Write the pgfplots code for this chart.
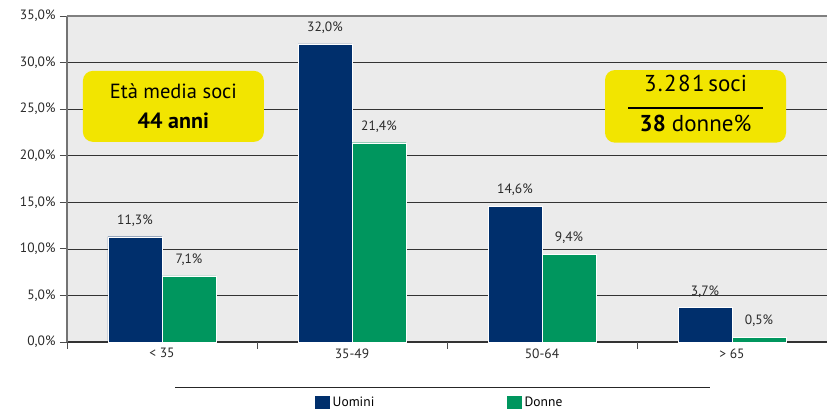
\documentclass[border=0pt]{standalone}
\usepackage{fontspec}
\setmainfont{PT Sans}
\usepackage{pgfplots}
\pgfplotsset{compat=1.18}
\definecolor{navy}{HTML}{002F6C}
\definecolor{grn}{HTML}{00965E}
\definecolor{ylw}{HTML}{F2E500}
\definecolor{bg}{HTML}{EBEBEB}
\definecolor{txt}{HTML}{2A2A2A}
\begin{document}
\begin{tikzpicture}
\begin{axis}[
  name=ax,
  scale only axis, width=760pt, height=326pt,
  xmin=-0.5, xmax=3.5, ymin=0, ymax=35,
  ybar=0pt, bar width=54pt,
  axis background/.style={fill=bg},
  axis x line*=bottom, axis y line*=left,
  axis line style={-},
  x axis line style={black!80, line width=1pt},
  y axis line style={black!55, line width=1.5pt},
  tick align=outside,
  major tick length=7pt,
  tick style={black!70, line width=0.8pt},
  xtick={-0.5,0.5,1.5,2.5,3.5}, xticklabels={},
  extra x ticks={0,1,2,3},
  extra x tick labels={{< 35},{35-49},{50-64},{> 65}},
  extra x tick style={major tick length=0pt, grid=none},
  ytick={0,5,...,35},
  ymajorgrids,
  grid style={black!80, line width=0.7pt},
  /pgf/number format/assume math mode=true,
  yticklabel={\pgfmathprintnumber[fixed,fixed zerofill,precision=1,use comma]{\tick}\%},
  ticklabel style={font=\fontsize{13.5}{15}\selectfont, text=txt},
  yticklabel style={xshift=-1pt},
  xticklabel style={yshift=-3pt},
  nodes near coords={\pgfmathprintnumber[fixed,fixed zerofill,precision=1,use comma]{\pgfplotspointmeta}\%},
  every node near coord/.append style={font=\fontsize{13.5}{15}\selectfont, text=txt, yshift=7pt},
  legend style={at={(0.49,-0.155)}, anchor=north, draw=none, fill=none,
    legend columns=2, font=\fontsize{13.5}{15}\selectfont,
    /tikz/every even column/.append style={column sep=130pt},
    /tikz/every odd column/.append style={column sep=0pt}},
  legend image code/.code={\fill[#1] (0pt,-8pt) rectangle (16pt,8pt);},
  clip=false,
]
\addplot[fill=navy, draw=white, line width=0.3pt] coordinates {(0,11.3) (1,32.0) (2,14.6) (3,3.7)};
\addplot[fill=grn, draw=white, line width=0.3pt] coordinates {(0,7.1) (1,21.4) (2,9.4) (3,0.5)};
\legend{Uomini, Donne}
\draw[black!50, line width=1.5pt] (rel axis cs:0,1) -- (rel axis cs:1,1);
\node[fill=ylw, rounded corners=10pt, minimum width=181pt, minimum height=71pt, align=center, font=\fontsize{20.5}{30}\selectfont, text=black]
  at (axis cs:0.06,25.3) {Età media soci\\{\fontsize{22}{30}\selectfont\bfseries 44 anni}};
\node[fill=ylw, rounded corners=10pt, minimum width=181pt, minimum height=71pt, align=center, font=\fontsize{23}{26}\selectfont, text=black]
  at (axis cs:2.808,25.3) {\begin{tabular}{@{}c@{}}{\addfontfeature{LetterSpace=6}3.281}\,soci\\[-9pt]\rule{135pt}{2pt}\\[-3pt]{\bfseries 38}\ donne\%\end{tabular}};
\end{axis}
\draw[black!85, line width=0.8pt] ([xshift=108pt,yshift=-45pt]ax.south west) -- ([xshift=643pt,yshift=-45pt]ax.south west);
\pgfresetboundingbox
\path ([xshift=-67pt,yshift=-67pt]ax.south west) rectangle ++(827pt,409pt);
\end{tikzpicture}
\end{document}
